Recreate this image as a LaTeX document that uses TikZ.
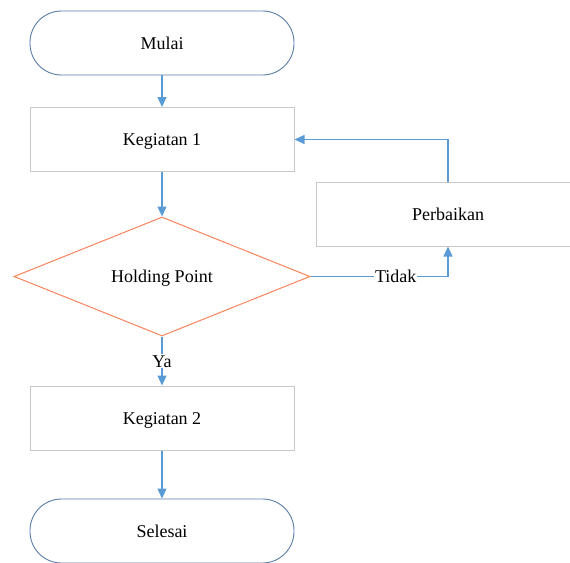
\documentclass[tikz,border=0pt]{standalone}
\usepackage{fontspec}
\setmainfont{Liberation Serif}
\usetikzlibrary{shapes.geometric,arrows.meta}
\definecolor{arrowblue}{HTML}{5B9BD5}
\definecolor{termblue}{HTML}{5A7DA6}
\definecolor{boxgray}{HTML}{C8C8C8}
\definecolor{diaorange}{HTML}{F4845A}
\begin{document}
\begin{tikzpicture}[x=1pt,y=-1pt,
  font=\fontsize{18}{21}\selectfont,
  every node/.style={text height=12pt, text depth=0pt},
  term/.style={draw=termblue, line width=0.9pt, rounded corners=31.5pt,
    minimum width=264pt, minimum height=64pt, inner sep=0pt},
  proc/.style={draw=boxgray, line width=1pt, minimum width=264pt,
    minimum height=64pt, inner sep=0pt},
  dec/.style={diamond, draw=diaorange, line width=1pt, aspect=2.49,
    minimum width=296pt, minimum height=119pt, inner sep=0pt},
  conn/.style={draw=arrowblue, line width=1.1pt,
    -{Triangle[length=10pt,width=9pt]}},
  lbl/.style={fill=white, inner sep=1pt}]
\useasboundingbox (0,0) rectangle (570,562);
\clip (0,0) rectangle (570,562);
\node[term] (mulai) at (162,43) {Mulai};
\node[proc] (k1) at (162,139.5) {Kegiatan 1};
\node[dec] (hp) at (162,276.5) {Holding Point};
\node[proc] (perb) at (448,214) {Perbaikan};
\node[proc] (k2) at (162,418) {Kegiatan 2};
\node[term] (sel) at (162,531) {Selesai};
\draw[conn] (mulai) -- (k1);
\draw[conn] (k1) -- (hp);
\draw[conn] (hp) -- node[lbl]{Ya} (k2);
\draw[conn] (k2) -- (sel);
\draw[conn] (hp.east) -| node[lbl, pos=0.31]{Tidak} (perb.south);
\draw[conn] (perb.north) |- (k1.east);
\end{tikzpicture}
\end{document}
